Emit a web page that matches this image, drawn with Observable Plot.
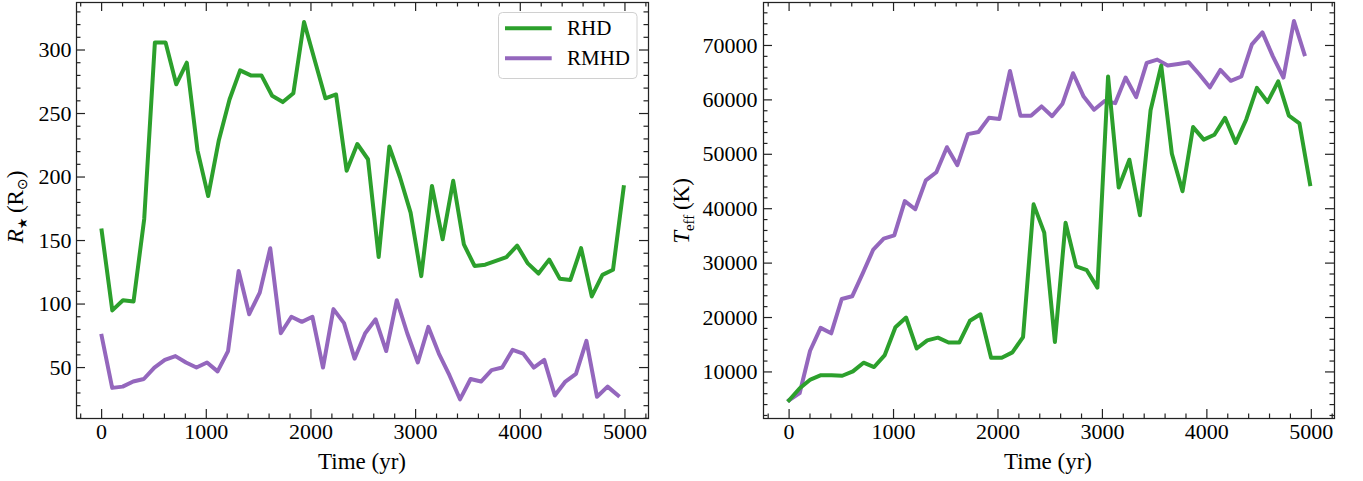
<!DOCTYPE html>
<html><head><meta charset="utf-8">
<script src="https://cdn.jsdelivr.net/npm/d3@7"></script>
<script src="https://cdn.jsdelivr.net/npm/@observablehq/plot@0.6"></script>
<style>
html,body{margin:0;padding:0;background:#fff;}
#wrap{display:flex;width:1363px;height:481px;overflow:hidden;}
svg{overflow:visible;}
</style></head><body><div id="wrap"></div>
<script>
// ---- data ----
const rhdTime = [0,102,204,305,407,509,611,713,814,916,1018,1120,1222,1323,1425,1527,1629,1731,1832,1934,2036,2138,2240,2341,2443,2545,2647,2749,2850,2952,3054,3156,3258,3359,3461,3563,3665,3767,3868,3970,4072,4174,4276,4377,4479,4581,4683,4785,4886,4988];
const rmhdTime = [0,101,201,302,403,504,604,705,806,906,1007,1108,1208,1309,1410,1511,1611,1712,1813,1913,2014,2115,2215,2316,2417,2518,2618,2719,2820,2920,3021,3122,3222,3323,3424,3525,3625,3726,3827,3927,4028,4129,4229,4330,4431,4532,4632,4733,4834,4934];
const rhdRadius = [158,95,103,102,167,306,306,273,290,221,185,229,261,284,280,280,264,259,266,322,292,262,265,205,226,214,137,224,200,172,122,193,151,197,147,130,131,134,137,146,132,124,135,120,119,144,106,123,127,192];
const rmhdRadius = [75,34,35,39,41,50,56,59,54,50,54,47,63,126,92,109,144,77,90,86,90,50,96,85,57,77,88,63,103,77,54,82,61,44,25,41,39,48,50,64,61,50,56,28,39,45,71,27,35,28];
const rhdTeff = [4800,7000,8600,9400,9400,9300,10100,11700,10900,13100,18200,20000,14300,15800,16300,15400,15400,19400,20600,12600,12600,13600,16400,40800,35600,15500,37400,29400,28700,25500,64300,43900,49000,38800,58100,66300,50100,43200,55000,52700,53600,56700,52100,56400,62200,59600,63400,57100,55700,44500];
const rmhdTeff = [4800,6100,13900,18100,17100,23400,23900,28100,32500,34500,35100,41400,39900,45200,46700,51300,48000,53700,54100,56700,56500,65300,57100,57100,58800,57000,59300,64900,60600,58200,59800,59400,64100,60500,66800,67400,66300,66600,66900,64700,62300,65500,63500,64300,70200,72400,68000,64100,74500,68400];
const seriesNames = ["RHD", "RMHD"];
const seriesColors = ["#2ca02c", "#9467bd"];
const xMajor = [0,1000,2000,3000,4000,5000];
const radiusMajor = [50,100,150,200,250,300];
const teffMajor = [10000,20000,30000,40000,50000,60000,70000];

// ---- layout ----
const H = 481, MT = 2, MB = 63;
const FONT = "'Liberation Serif','Times New Roman',serif";
const xMinor = d3.range(-200, 5201, 200).filter(v => v % 1000 !== 0);

function zipSeries(t, v) { return t.map((tt, i) => ({t: tt, v: v[i]})); }

function panel({width, marginLeft, marginRight, xDomain, yDomain, yMajorT, yMinorT, series, yPad}) {
  const innerW = width - marginLeft - marginRight, innerH = H - MT - MB;
  const majorLen = 9, minorLen = 4.5, tc = "#222", tw = 1.2;
  const marks = [];
  for (const s of series) marks.push(Plot.line(s.data, {x: "t", y: "v", stroke: s.color, strokeWidth: 4, strokeLinejoin: "round", strokeLinecap: "square"}));
  const xt = (vals, len) => [
    Plot.ruleX(vals, {x: d => d, insetTop: innerH - len, stroke: tc, strokeWidth: tw}),
    Plot.ruleX(vals, {x: d => d, insetBottom: innerH - len, stroke: tc, strokeWidth: tw})
  ];
  const yt = (vals, len) => [
    Plot.ruleY(vals, {y: d => d, insetRight: innerW - len, stroke: tc, strokeWidth: tw}),
    Plot.ruleY(vals, {y: d => d, insetLeft: innerW - len, stroke: tc, strokeWidth: tw})
  ];
  marks.push(...xt(xMajor, majorLen), ...xt(xMinor, minorLen), ...yt(yMajorT, majorLen), ...yt(yMinorT, minorLen));
  marks.push(Plot.frame({stroke: tc, strokeWidth: 1.25}));
  const svg = Plot.plot({
    width, height: H, marginTop: MT, marginBottom: MB, marginLeft, marginRight,
    style: {fontFamily: FONT, fontSize: "22px", color: "#000", background: "#fff", overflow: "visible"},
    x: {domain: xDomain, ticks: xMajor, tickSize: 0, tickPadding: 5, label: null, tickFormat: d => String(d)},
    y: {domain: yDomain, ticks: yMajorT, tickSize: 0, tickPadding: yPad, label: null, tickFormat: d => String(d)},
    marks
  });
  d3.select(svg).selectAll("text").style("font-size", "22px").style("font-family", FONT).attr("fill", "#000");
  return svg;
}

const leftSvg = panel({
  width: 680, marginLeft: 76, marginRight: 32,
  xDomain: [-240, 5225], yDomain: [9.9, 337.4],
  yMajorT: radiusMajor, yMinorT: d3.range(10, 331, 10).filter(v => v % 50 !== 0),
  series: [{data: zipSeries(rhdTime, rhdRadius), color: seriesColors[0]}, {data: zipSeries(rmhdTime, rmhdRadius), color: seriesColors[1]}],
  yPad: 5
});
const rightSvg = panel({
  width: 683, marginLeft: 83, marginRight: 29,
  xDomain: [-245, 5222], yDomain: [1442, 77897],
  yMajorT: teffMajor, yMinorT: d3.range(2000, 76001, 2000).filter(v => v % 10000 !== 0),
  series: [{data: zipSeries(rmhdTime, rmhdTeff), color: seriesColors[1]}, {data: zipSeries(rhdTime, rhdTeff), color: seriesColors[0]}],
  yPad: 6
});
const wrap = document.getElementById("wrap");
wrap.appendChild(leftSvg);
wrap.appendChild(rightSvg);

// x labels
function xLabel(svg, cx) {
  d3.select(svg).append("text").attr("x", cx).attr("y", 469).attr("text-anchor", "middle")
    .style("font-family", FONT).style("font-size", "23px").attr("fill", "#000").text("Time (yr)");
}
xLabel(leftSvg, 362);
xLabel(rightSvg, 1048 - 680);

// y labels (rich text)
const yl = d3.select(leftSvg).append("text").attr("transform", "translate(23,207) rotate(-90)")
  .attr("text-anchor", "middle").style("font-family", FONT).style("font-size", "23px").attr("fill", "#000");
yl.append("tspan").attr("font-style", "italic").text("R");
yl.append("tspan").style("font-family", "'DejaVu Sans'").style("font-size", "13px").attr("dy", 4).text("★");
yl.append("tspan").attr("dy", -4).text("\u2009(R");
yl.append("tspan").style("font-family", "'DejaVu Sans'").style("font-size", "14px").attr("dy", 4).text("⊙");
yl.append("tspan").attr("dy", -4).text(")");

const yr = d3.select(rightSvg).append("text").attr("transform", `translate(${689 - 680},211) rotate(-90)`)
  .attr("text-anchor", "middle").style("font-family", FONT).style("font-size", "23px").attr("fill", "#000");
yr.append("tspan").attr("font-style", "italic").text("T");
yr.append("tspan").style("font-size", "15px").attr("dy", 5).text("eff");
yr.append("tspan").attr("dy", -5).text("\u2009(K)");

// legend
const lg = d3.select(leftSvg).append("g");
lg.append("rect").attr("x", 498.5).attr("y", 12.5).attr("width", 138.5).attr("height", 66).attr("rx", 4)
  .attr("fill", "#fff").attr("fill-opacity", 0.8).attr("stroke", "#d0d0d0").attr("stroke-width", 1);
seriesNames.forEach((name, i) => {
  const y = 28.3 + i * 30;
  lg.append("line").attr("x1", 505).attr("x2", 551.7).attr("y1", y).attr("y2", y)
    .attr("stroke", seriesColors[i]).attr("stroke-width", 4);
  lg.append("text").attr("x", 567).attr("y", y + 7).attr("text-anchor", "start")
    .style("font-family", FONT).style("font-size", "21px").attr("fill", "#000").text(name);
});
</script></body></html>
